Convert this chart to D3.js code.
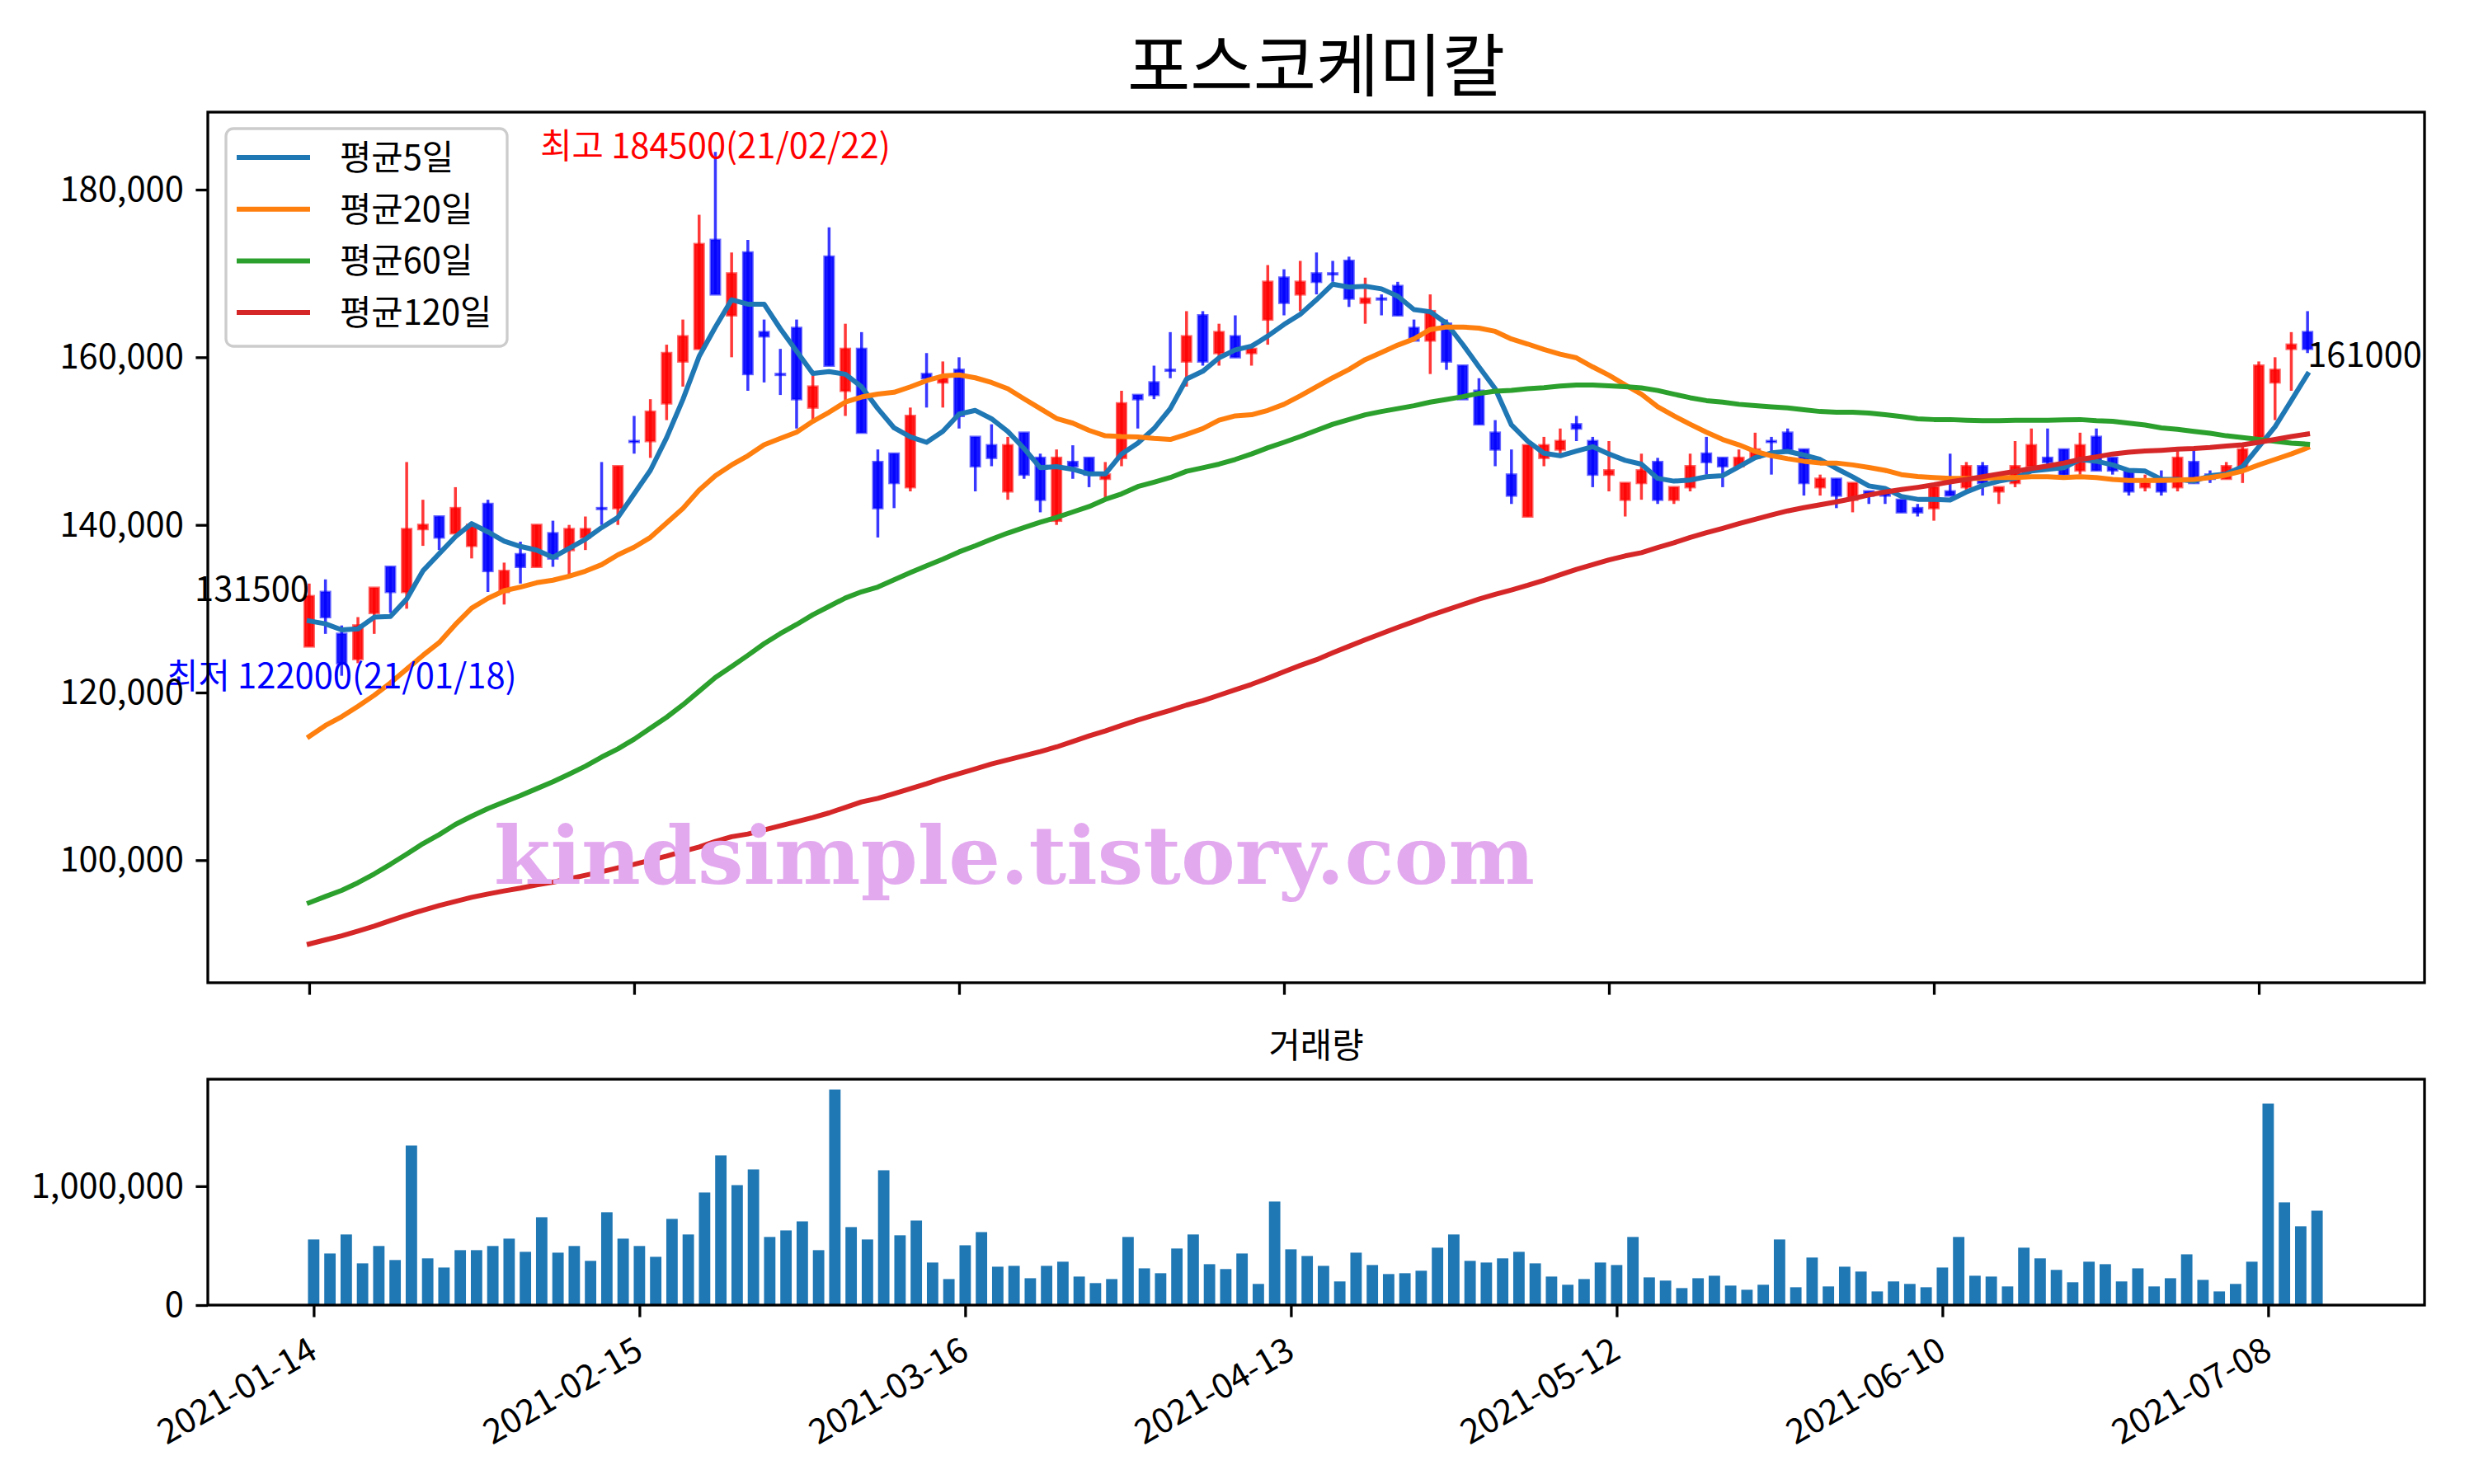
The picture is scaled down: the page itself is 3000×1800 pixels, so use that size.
<!DOCTYPE html>
<html><head><meta charset="utf-8">
<script src="https://cdn.jsdelivr.net/npm/d3@7"></script>
<style>
body{margin:0;background:#fff}
svg{display:block}
text{font-family:'Noto Sans CJK KR','Noto Sans',sans-serif}
</style>
</head><body>
<svg id="c" width="3000" height="1800"></svg>
<script>
// ---------------- DATA ----------------
const title = "포스코케미칼";
const volTitle = "거래량";
const seriesNames = ["평균5일", "평균20일", "평균60일", "평균120일"];
const seriesColors = ["#1f77b4", "#ff7f0e", "#2ca02c", "#d62728"];
const tickIdx = [0, 20, 40, 60, 80, 100, 120];
const tickLabels = ["2021-01-14", "2021-02-15", "2021-03-16", "2021-04-13", "2021-05-12", "2021-06-10", "2021-07-08"];
const priceTicks = [100000, 120000, 140000, 160000, 180000];
const volTicks = [0, 1000000];
const highDate = "21/02/22";
const lowDate = "21/01/18";
const watermark = "kindsimple.tistory.com";

const openP = [
125500,132000,127000,124000,129500,135000,132000,139500,141000,139000,
137500,142500,132000,136500,135000,139000,137000,138500,142000,142000,
150000,150000,154500,159500,161000,174000,165000,172500,163000,158000,
163500,154000,172000,156000,161000,147500,148500,144500,158000,157000,
158500,150500,149500,144000,151000,148000,140500,147500,148000,145500,
148000,155500,157000,158500,159500,165000,160500,162500,160500,164500,
169500,167500,170000,170000,171500,166500,167000,168500,163500,162000,
164000,159000,156000,151000,146000,141000,148000,149000,152000,150000,
146000,143000,145000,147500,143000,144500,148500,148000,147000,148000,
150000,151000,149000,144500,145500,143000,144000,144000,143000,142000,
142000,144000,144500,147000,144000,145000,147000,148000,149000,146500,
150500,148000,146500,144500,145500,144500,147500,146000,145500,146500,
150500,157000,161000,163000];

const highP = [
133000,133500,128000,129000,132500,135000,147500,143000,141000,144500,
140000,143000,135500,138000,140000,140500,140000,141000,147500,147000,
153000,155000,161500,164500,177000,184500,172500,174000,164500,161000,
164500,158000,175500,164000,163000,149000,148500,154000,160500,159500,
160000,150500,152000,150500,151000,148500,149000,149500,148000,147500,
156000,155500,159000,163000,165500,165500,164000,165000,161500,171000,
170500,171500,172500,171500,172000,169500,167500,169000,164500,167500,
164500,159000,157500,152500,149000,149500,150500,151500,153000,150500,
150000,145000,148500,148000,144500,148500,150500,148000,149000,151000,
150500,151500,149000,146000,145500,145000,144000,144000,143000,142500,
145000,148500,147500,147500,144500,150000,151500,151500,149000,151000,
151500,148000,146500,146000,146500,149000,149000,146500,147500,149500,
159500,160000,163000,165500];

const lowP = [
125500,127000,122000,123500,127000,129500,130000,137500,137000,139000,
136000,132000,130500,133000,135000,135000,134000,137000,140000,140000,
148500,148000,152500,156500,161000,167500,160000,156000,157000,155500,
151500,152500,159000,153000,151000,138500,142000,144000,154000,154000,
151500,144000,147000,143000,145500,141500,140000,145500,144500,143000,
147000,151500,155000,157500,156500,159000,159000,160000,159000,161500,
165000,165500,167500,169000,166000,164000,165000,165000,162000,158000,
158500,155000,152000,147000,142500,141000,147000,148500,150000,144500,
144000,141000,143000,142500,142500,144000,146000,144500,147000,148000,
146000,149000,143500,143500,142000,141500,142500,142500,141500,141000,
140500,143500,144000,143500,142500,144500,147000,147000,146000,146000,
146500,146000,143500,144000,143500,144000,145000,145000,145500,145000,
150500,152500,156000,160500];

const closeP = [
131500,129000,123500,128000,132500,132000,139500,140000,138500,142000,
140000,134500,134500,135000,140000,136000,139500,139500,142000,147000,
150000,153500,160500,162500,173500,167500,170000,158000,162500,158000,
155000,156500,159000,161000,151000,142000,145000,153000,157500,157500,
153000,147000,148000,149500,146000,143000,148000,147000,146000,146000,
154500,155000,155500,158500,162500,159500,163000,160000,161000,169000,
166500,169000,169000,170000,167000,167000,167000,165000,162000,165500,
159500,155000,152000,149000,143500,149500,149500,150000,151500,146000,
146500,145000,146500,143000,144500,147000,147500,147000,148000,149000,
150000,149000,145000,145500,143500,145000,143500,143500,141500,141500,
144500,143500,147000,145000,144500,147000,149500,147500,146000,149500,
146500,146500,144000,145000,144000,148000,145000,145500,147000,149000,
159000,158500,161500,161000];

const volume = [
552000,434000,594000,351000,497000,379000,1342000,393000,316000,462000,
462000,497000,559000,448000,739000,441000,497000,372000,781000,559000,
497000,406000,725000,594000,947000,1259000,1009000,1141000,573000,628000,
704000,462000,1813000,656000,552000,1134000,587000,711000,358000,219000,
503000,614000,323000,330000,226000,330000,365000,240000,185000,219000,
573000,309000,268000,476000,594000,344000,303000,434000,178000,871000,
469000,413000,330000,199000,441000,337000,261000,268000,289000,483000,
594000,372000,358000,393000,448000,351000,240000,171000,219000,358000,
337000,573000,233000,206000,143000,226000,247000,164000,129000,171000,
552000,150000,400000,157000,323000,282000,115000,199000,178000,150000,
316000,573000,247000,240000,157000,483000,393000,296000,192000,365000,
344000,199000,309000,157000,226000,427000,212000,115000,178000,365000,
1695000,864000,663000,794000];

const ma5 = [
128550,128200,127470,127600,128990,129070,131150,134520,136560,138590,
140150,139160,138070,137430,136990,136130,137210,138290,139680,140890,
143700,146510,150410,154960,160100,163600,166860,166340,166340,163400,
160710,158070,158290,157980,156470,153870,151580,150500,149850,151150,
153220,153660,152660,151150,149110,146820,146950,146640,146080,146080,
148460,149760,151490,153870,157400,158330,159930,160880,161320,162530,
163910,165130,166860,168720,168370,168460,168160,167290,165690,165430,
164040,161530,158850,156250,151920,149980,148550,148250,148810,149330,
148460,147700,147250,145560,145220,145350,145740,145870,146950,148030,
148590,148770,148330,147810,146730,145740,144650,144350,143400,143050,
143050,142970,143920,144700,145220,145560,146430,146640,146820,147810,
147600,147160,146510,146430,145430,145430,145220,145870,146080,146950,
149330,151710,154830,157980];

const ma20 = [
114760,116070,117120,118360,119670,121150,122790,124430,125960,128120,
130070,131240,132150,132580,133100,133400,133880,134480,135260,136430,
137340,138510,140240,141970,144140,145870,147150,148250,149550,150320,
151060,152360,153440,154650,155260,155600,155820,156470,157210,157770,
157900,157550,156990,156250,155040,153870,152700,152140,151280,150630,
150540,150500,150320,150190,150800,151490,152490,153010,153140,153660,
154390,155390,156470,157550,158550,159720,160580,161450,162180,163310,
163610,163610,163480,163090,162180,161580,160930,160370,159930,158850,
157850,156700,155600,154090,153010,152010,151060,150190,149550,148770,
148250,147900,147600,147380,147380,147160,146860,146510,146000,145780,
145650,145560,145560,145560,145650,145650,145740,145740,145650,145740,
145650,145430,145300,145300,145300,145350,145430,145650,145950,146430,
147160,147810,148460,149200];

const ma60 = [
94920,95670,96390,97310,98360,99510,100720,101970,103050,104260,
105250,106160,106950,107710,108530,109350,110260,111210,112300,113280,
114430,115740,117050,118530,120160,121800,123100,124440,125830,127040,
128120,129290,130280,131280,132020,132580,133440,134310,135130,135910,
136780,137510,138290,139030,139680,140320,140890,141540,142190,143050,
143700,144570,145090,145650,146400,146820,147250,147810,148460,149200,
149850,150540,151280,152010,152570,153140,153530,153870,154220,154650,
154960,155300,155690,155950,156040,156250,156380,156560,156690,156690,
156600,156500,156340,156040,155600,155170,154830,154650,154390,154220,
154090,153960,153740,153530,153440,153440,153350,153140,152920,152660,
152570,152570,152490,152440,152440,152490,152490,152490,152530,152570,
152440,152360,152140,151920,151580,151410,151150,150930,150630,150410,
150190,149980,149760,149630];

const ma120 = [
90000,90490,90980,91540,92130,92790,93440,94030,94590,95080,
95570,95970,96330,96660,97050,97380,97770,98200,98620,99080,
99510,100000,100490,101050,101570,102230,102800,103120,103610,104100,
104590,105080,105640,106300,106950,107380,107940,108530,109120,109770,
110330,110890,111480,111970,112460,112950,113510,114160,114820,115410,
116070,116720,117310,117870,118500,119030,119680,120330,120980,121710,
122490,123230,123920,124740,125520,126300,127040,127770,128470,129200,
129850,130500,131150,131710,132230,132790,133400,134050,134700,135260,
135820,136300,136690,137300,137860,138510,139070,139590,140150,140670,
141190,141670,142060,142400,142750,143140,143570,143920,144220,144480,
144780,145130,145430,145740,146080,146380,146730,147030,147380,147810,
148120,148460,148680,148810,148900,149030,149110,149240,149420,149550,
149850,150190,150540,150840];

// ---------------- DRAW ----------------
const svg = d3.select('#c');
svg.append('rect').attr('width', 3000).attr('height', 1800).attr('fill', '#fff');

const FS = 41.7, LW = 3.3;
const M = {l: 252, r: 2940, t: 136, b: 1192};
const V = {l: 252, r: 2940, t: 1309, b: 1583};
const n = closeP.length;

const x = d3.scaleLinear().domain([-6.24, 130.2]).range([M.l, M.r]);
const y = d3.scaleLinear().domain([85378, 189246]).range([M.b, M.t]);
const xv = d3.scaleLinear().domain([-6.5, 129.6]).range([V.l, V.r]);
const yv = d3.scaleLinear().domain([0, 1900000]).range([V.b, V.t]);

const RED = '#ff0000', BLUE = '#0000ff';
const up = i => closeP[i] > openP[i];

// candles
const cg = svg.append('g');
const bw = x(0.56) - x(0);
d3.range(n).forEach(i => {
  const c = up(i) ? RED : BLUE;
  cg.append('line')
    .attr('x1', x(i)).attr('x2', x(i))
    .attr('y1', y(highP[i])).attr('y2', y(lowP[i]))
    .attr('stroke', c).attr('stroke-opacity', 0.78).attr('stroke-width', 3.5);
  const top = y(Math.max(openP[i], closeP[i]));
  const bot = y(Math.min(openP[i], closeP[i]));
  cg.append('rect')
    .attr('x', x(i) - bw / 2).attr('y', top)
    .attr('width', bw).attr('height', Math.max(bot - top, 1))
    .attr('fill', c).attr('fill-opacity', 0.9)
    .attr('stroke', c).attr('stroke-opacity', 0.6).attr('stroke-width', 3);
});

// moving averages
const mas = [ma5, ma20, ma60, ma120];
const line = d3.line().x((d, i) => x(i)).y(d => y(d));
mas.forEach((s, k) => {
  svg.append('path').attr('d', line(s)).attr('fill', 'none')
    .attr('stroke', seriesColors[k]).attr('stroke-width', 6)
    .attr('stroke-linejoin', 'round').attr('stroke-linecap', 'square');
});

// watermark
svg.append('text').text(watermark)
  .attr('x', 599).attr('y', 1072)
  .attr('font-size', 98).attr('font-weight', 'bold')
  .style('font-family', "'DejaVu Serif', serif")
  .attr('fill', '#e3a9ef')
  .attr('textLength', 1262).attr('lengthAdjust', 'spacingAndGlyphs');

// annotations
const iMax = d3.maxIndex(highP), iMin = d3.minIndex(lowP);
svg.append('text').text(`최고 ${highP[iMax]}(${highDate})`)
  .attr('x', x(iMax)).attr('y', y(highP[iMax]) + 8)
  .attr('text-anchor', 'middle').attr('font-size', FS).attr('fill', RED);
svg.append('text').text(`최저 ${lowP[iMin]}(${lowDate})`)
  .attr('x', x(iMin)).attr('y', y(lowP[iMin]) + 15)
  .attr('text-anchor', 'middle').attr('font-size', FS).attr('fill', BLUE);
svg.append('text').text(`${closeP[0]}`)
  .attr('x', x(0)).attr('y', y(closeP[0]) + 6)
  .attr('text-anchor', 'end').attr('font-size', FS).attr('fill', '#000');
svg.append('text').text(`${closeP[n - 1]}`)
  .attr('x', x(n - 1)).attr('y', y(closeP[n - 1]) + 22)
  .attr('text-anchor', 'start').attr('font-size', FS).attr('fill', '#000');

// legend
const lg = svg.append('g');
lg.append('rect').attr('x', 274).attr('y', 156).attr('width', 341).attr('height', 264)
  .attr('rx', 9).attr('fill', '#fff').attr('fill-opacity', 0.8)
  .attr('stroke', '#cccccc').attr('stroke-width', LW);
seriesNames.forEach((nm, k) => {
  const yy = 191 + k * 62.7;
  lg.append('line').attr('x1', 287).attr('x2', 376).attr('y1', yy).attr('y2', yy)
    .attr('stroke', seriesColors[k]).attr('stroke-width', 6);
  lg.append('text').text(nm).attr('x', 412).attr('y', yy + 15)
    .attr('font-size', FS).attr('fill', '#000');
});

// axes helper
function styleAxis(g) {
  g.select('.domain').remove();
  g.selectAll('.tick line').attr('stroke', '#000').attr('stroke-width', LW);
  g.selectAll('.tick text').attr('font-size', FS).attr('fill', '#000')
    .style('font-family', "'Noto Sans CJK KR','Noto Sans',sans-serif");
}
// main axes
svg.append('g').attr('transform', `translate(${M.l},0)`)
  .call(d3.axisLeft(y).tickValues(priceTicks).tickFormat(d3.format(',')).tickSize(14.6).tickPadding(14.6))
  .call(styleAxis);
svg.append('g').attr('transform', `translate(0,${M.b})`)
  .call(d3.axisBottom(x).tickValues(tickIdx).tickFormat('').tickSize(14.6))
  .call(styleAxis);
svg.append('rect').attr('x', M.l).attr('y', M.t).attr('width', M.r - M.l).attr('height', M.b - M.t)
  .attr('fill', 'none').attr('stroke', '#000').attr('stroke-width', LW);

// title
svg.append('text').text(title).attr('x', (M.l + M.r) / 2).attr('y', 110)
  .attr('text-anchor', 'middle').attr('font-size', 83).attr('fill', '#000');

// volume
svg.append('g').selectAll('rect').data(volume).join('rect')
  .attr('x', (d, i) => xv(i - 0.35)).attr('width', xv(0.7) - xv(0))
  .attr('y', d => yv(d)).attr('height', d => yv(0) - yv(d))
  .attr('fill', '#1f77b4');
svg.append('g').attr('transform', `translate(${V.l},0)`)
  .call(d3.axisLeft(yv).tickValues(volTicks).tickFormat(d3.format(',')).tickSize(14.6).tickPadding(14.6))
  .call(styleAxis);
svg.append('g').attr('transform', `translate(0,${V.b})`)
  .call(d3.axisBottom(xv).tickValues(tickIdx).tickFormat('').tickSize(14.6))
  .call(styleAxis);
svg.append('rect').attr('x', V.l).attr('y', V.t).attr('width', V.r - V.l).attr('height', V.b - V.t)
  .attr('fill', 'none').attr('stroke', '#000').attr('stroke-width', LW);
svg.append('text').text(volTitle).attr('x', (V.l + V.r) / 2).attr('y', 1283)
  .attr('text-anchor', 'middle').attr('font-size', FS).attr('fill', '#000');

// date labels
tickIdx.forEach((t, k) => {
  svg.append('text').text(tickLabels[k])
    .attr('transform', `translate(${xv(t) - 8},1620) rotate(-30)`)
    .attr('text-anchor', 'end').attr('dy', '0.72em')
    .attr('font-size', FS).attr('fill', '#000');
});
</script>
</body></html>
